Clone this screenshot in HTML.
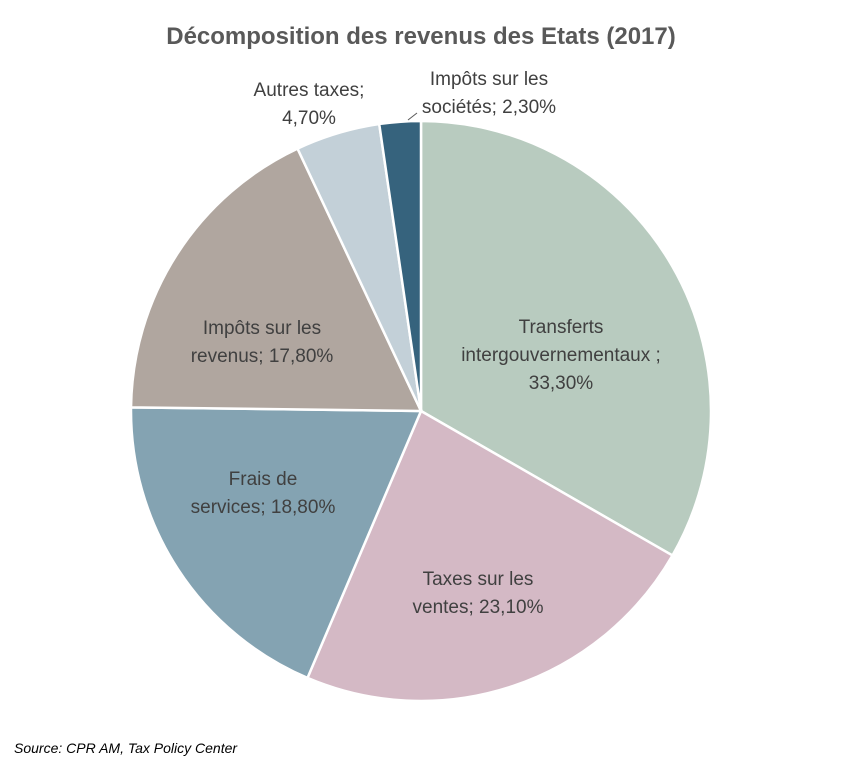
<!DOCTYPE html>
<html><head><meta charset="utf-8"><style>
body{margin:0;background:#fff;}
svg{display:block;font-family:"Liberation Sans",sans-serif;}
</style></head><body>
<svg id="chart" width="841" height="770">
<text x="421" y="44" text-anchor="middle" font-size="24" font-weight="bold" fill="#595959">Décomposition des revenus des Etats (2017)</text>
<g id="slices"></g>
<g id="labels"></g>
<line x1="408" y1="120" x2="417" y2="113" stroke="#595959" stroke-width="1"/>
<text x="14" y="753" font-size="14" font-style="italic" fill="#000">Source: CPR AM, Tax Policy Center</text>
</svg>
<script>
const categories=["Transferts intergouvernementaux","Taxes sur les ventes","Frais de services","Impôts sur les revenus","Autres taxes","Impôts sur les sociétés"];
const values=[33.3,23.1,18.8,17.8,4.7,2.3];
const labelLines=[["Transferts","intergouvernementaux ;","33,30%"],["Taxes sur les","ventes; 23,10%"],["Frais de","services; 18,80%"],["Impôts sur les","revenus; 17,80%"],["Autres taxes;","4,70%"],["Impôts sur les","sociétés; 2,30%"]];
const colors=["#b8cbbf","#d4b9c5","#84a3b2","#b0a69f","#c3d0d8","#36637d"];
const labelPos=[[561,333],[478,585],[263,485],[262,334],[309,96],[489,85]];
const cx=421,cy=411,r=290,NS="http://www.w3.org/2000/svg";
const total=values.reduce((a,b)=>a+b,0);
const gs=document.getElementById('slices'),gl=document.getElementById('labels');
let a=0;
function pt(t){return [cx+r*Math.sin(t),cy-r*Math.cos(t)];}
values.forEach((v,i)=>{
  const a0=a,a1=a+v/total*2*Math.PI;a=a1;
  const p0=pt(a0),p1=pt(a1),large=(a1-a0)>Math.PI?1:0;
  const p=document.createElementNS(NS,'path');
  p.setAttribute('d',`M${cx},${cy}L${p0[0]},${p0[1]}A${r},${r} 0 ${large} 1 ${p1[0]},${p1[1]}Z`);
  p.setAttribute('fill',colors[i]);p.setAttribute('stroke','#fff');p.setAttribute('stroke-width','2.5');
  
  
  gs.appendChild(p);
  const t=document.createElementNS(NS,'text');
  t.setAttribute('text-anchor','middle');t.setAttribute('font-size','19');t.setAttribute('fill','#404040');
  
  
  const lines=labelLines[i],[lx,ly]=labelPos[i];
  lines.forEach((s,j)=>{const ts=document.createElementNS(NS,'tspan');ts.setAttribute('x',lx);ts.setAttribute('y',ly+j*28);ts.textContent=s;t.appendChild(ts);});
  gl.appendChild(t);
});
</script>
</body></html>
